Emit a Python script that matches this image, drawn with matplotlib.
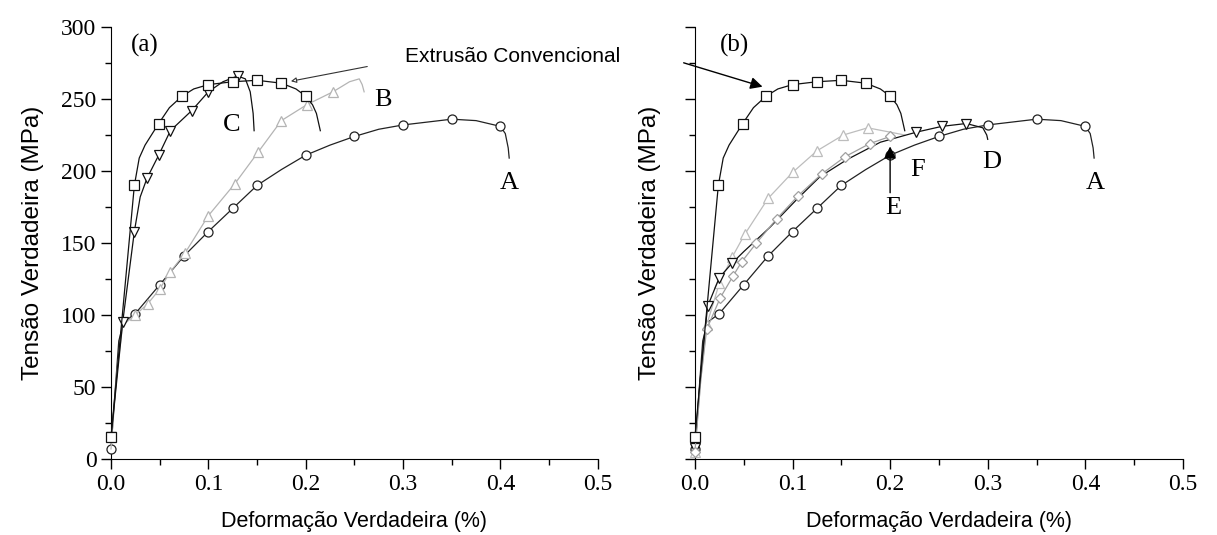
"""Tensão x deformação verdadeira: (a) curvas A, B, C; (b) curvas A, D, E, F."""
import matplotlib
matplotlib.use("Agg")
import matplotlib.pyplot as plt
from matplotlib.ticker import MultipleLocator

SERIF = "Liberation Serif"
SANS = "Liberation Sans"

# curva A (círculos) - aparece nos dois painéis
a_x = [0, 0.004, 0.008, 0.013, 0.025, 0.05, 0.075, 0.1, 0.125, 0.15, 0.175, 0.2,
       0.225, 0.25, 0.275, 0.3, 0.325, 0.35, 0.375, 0.4, 0.405, 0.408, 0.409]
a_y = [7, 45, 82, 95, 101, 121, 141, 158, 174, 190, 201, 211,
       218, 224, 229, 232, 234, 236, 235, 231, 226, 216, 209]
a_mk = [0, 4, 5, 6, 7, 8, 9, 11, 13, 15, 17, 19]

# extrusão convencional (quadrados) - nos dois painéis
ext_x = [0, 0.024, 0.029, 0.035, 0.049, 0.06, 0.073, 0.085, 0.1, 0.125, 0.15,
         0.175, 0.19, 0.2, 0.207, 0.211, 0.213, 0.215]
ext_y = [15, 190, 209, 218, 233, 244, 252, 257, 260, 262, 263,
         261, 257, 252, 246, 240, 234, 228]
ext_mk = [0, 1, 4, 6, 8, 9, 10, 11, 13]

# curva B (triângulos, cinza claro)
b_x = [0, 0.006, 0.012, 0.025, 0.038, 0.05, 0.061, 0.076, 0.1, 0.127, 0.151,
       0.175, 0.201, 0.228, 0.245, 0.255, 0.258, 0.26]
b_y = [7, 60, 93, 100, 108, 118, 130, 143, 169, 191, 213,
       235, 246, 255, 262, 264, 260, 255]
b_mk = [3, 4, 5, 6, 7, 8, 9, 10, 11, 12, 13]

# curva C (triângulos invertidos, preto)
c_x = [0, 0.012, 0.024, 0.03, 0.037, 0.049, 0.061, 0.083, 0.1, 0.115, 0.13,
       0.138, 0.143, 0.146, 0.147]
c_y = [15, 95, 158, 182, 195, 211, 228, 242, 255, 262, 266,
       264, 255, 240, 228]
c_mk = [0, 1, 2, 4, 5, 6, 7, 8, 10]

# curva D (triângulos invertidos, preto)
d_x = [0, 0.006, 0.013, 0.025, 0.038, 0.05, 0.077, 0.104, 0.128, 0.156, 0.19,
       0.227, 0.253, 0.278, 0.295, 0.299, 0.3]
d_y = [8, 60, 106, 126, 136, 144, 161, 180, 196, 208, 220,
       227, 231, 233, 230, 225, 222]
d_mk = [0, 2, 3, 4, 11, 12, 13]

# curva E (losangos, cinza)
e_x = [0, 0.006, 0.012, 0.026, 0.039, 0.048, 0.063, 0.084, 0.106, 0.13, 0.154,
       0.179, 0.2]
e_y = [5, 55, 90, 112, 127, 137, 150, 167, 183, 198, 210, 219, 224]
e_mk = [0, 2, 3, 4, 5, 6, 7, 8, 9, 10, 11, 12]

# curva F (triângulos, cinza claro)
f_x = [0, 0.006, 0.012, 0.025, 0.038, 0.051, 0.075, 0.1, 0.125, 0.152, 0.177,
       0.2, 0.215]
f_y = [5, 55, 93, 122, 140, 156, 181, 199, 214, 225, 230, 227, 225]
f_mk = [0, 2, 3, 4, 5, 6, 7, 8, 9, 10]

X_TICKS = [0.0, 0.1, 0.2, 0.3, 0.4, 0.5]
Y_TICKS = [0, 50, 100, 150, 200, 250, 300]


def curve(ax, x, y, mk, marker, color, ms=6.5):
    ax.plot(x, y, "-", color=color, lw=0.9, marker=marker, markevery=mk,
            ms=ms, mfc="white", mec=color, mew=0.9, clip_on=False, zorder=3)


def style(ax, ylabels=True):
    ax.set_xlim(0, 0.5)
    ax.set_ylim(0, 300)
    for s in ("top", "right"):
        ax.spines[s].set_visible(False)
    ax.set_xticks(X_TICKS)
    ax.set_yticks(Y_TICKS)
    ax.xaxis.set_minor_locator(MultipleLocator(0.05))
    ax.yaxis.set_minor_locator(MultipleLocator(25))
    ax.tick_params(which="major", direction="out", length=7, width=1, labelsize=17)
    ax.tick_params(which="minor", direction="out", length=4, width=1)
    ax.set_xticklabels([f"{v:.1f}" for v in X_TICKS], family=SERIF)
    if ylabels:
        ax.set_yticklabels([str(v) for v in Y_TICKS], family=SERIF)
        pad = 12
    else:
        ax.set_yticklabels([])
        pad = 14
    ax.set_xlabel("Deformação Verdadeira (%)", family=SANS, fontsize=15.5, labelpad=12)
    ax.set_ylabel("Tensão Verdadeira (MPa)", family=SANS, fontsize=17.5, labelpad=pad)


fig = plt.figure(figsize=(12.17, 5.35), dpi=100)
axL = fig.add_axes([0.0912, 0.142, 0.400, 0.8075])
axR = fig.add_axes([0.571, 0.142, 0.401, 0.8075])

# -- (a) --
curve(axL, a_x, a_y, a_mk, "o", "#222222")
curve(axL, b_x, b_y, b_mk, "^", "#b4b4b4")
curve(axL, c_x, c_y, c_mk, "v", "#111111")
curve(axL, ext_x, ext_y, ext_mk, "s", "#111111")
style(axL)
axL.text(0.035, 287, "(a)", family=SERIF, fontsize=18, ha="center", va="center")
axL.text(0.124, 232, "C", family=SERIF, fontsize=19, ha="center", va="center")
axL.text(0.279, 249, "B", family=SERIF, fontsize=19, ha="center", va="center")
axL.text(0.409, 192, "A", family=SERIF, fontsize=19, ha="center", va="center")
fig.text(405 / 1217, 1 - 57 / 535, "Extrusão Convencional", family=SANS,
         fontsize=15, ha="left", va="center")
axL.annotate("", xy=(0.182, 262), xycoords="data",
             xytext=(370 / 1217, 1 - 66 / 535), textcoords="figure fraction",
             arrowprops=dict(arrowstyle="-|>", color="#333333", lw=0.8,
                             mutation_scale=8, fc="white"))

# -- (b) --
curve(axR, a_x, a_y, a_mk, "o", "#222222")
curve(axR, f_x, f_y, f_mk, "^", "#bdbdbd")
curve(axR, d_x, d_y, d_mk, "v", "#111111")
curve(axR, e_x, e_y, e_mk, "D", "#a0a0a0", ms=5.5)
curve(axR, ext_x, ext_y, ext_mk, "s", "#111111")
style(axR, ylabels=False)
axR.text(0.041, 287, "(b)", family=SERIF, fontsize=18, ha="center", va="center")
axR.text(0.41, 192, "A", family=SERIF, fontsize=19, ha="center", va="center")
axR.text(0.304, 206, "D", family=SERIF, fontsize=19, ha="center", va="center")
axR.text(0.228, 201, "F", family=SERIF, fontsize=19, ha="center", va="center")
axR.text(0.203, 174, "E", family=SERIF, fontsize=19, ha="center", va="center")
axR.annotate("", xy=(0.2, 219), xytext=(0.2, 183),
             arrowprops=dict(arrowstyle="-|>", color="black", lw=1,
                             mutation_scale=18))
axR.annotate("", xy=(0.072, 258), xycoords="data",
             xytext=(681 / 1217, 1 - 62 / 535), textcoords="figure fraction",
             arrowprops=dict(arrowstyle="-|>", color="black", lw=1,
                             mutation_scale=18))

fig.savefig("out.png", dpi=100)
